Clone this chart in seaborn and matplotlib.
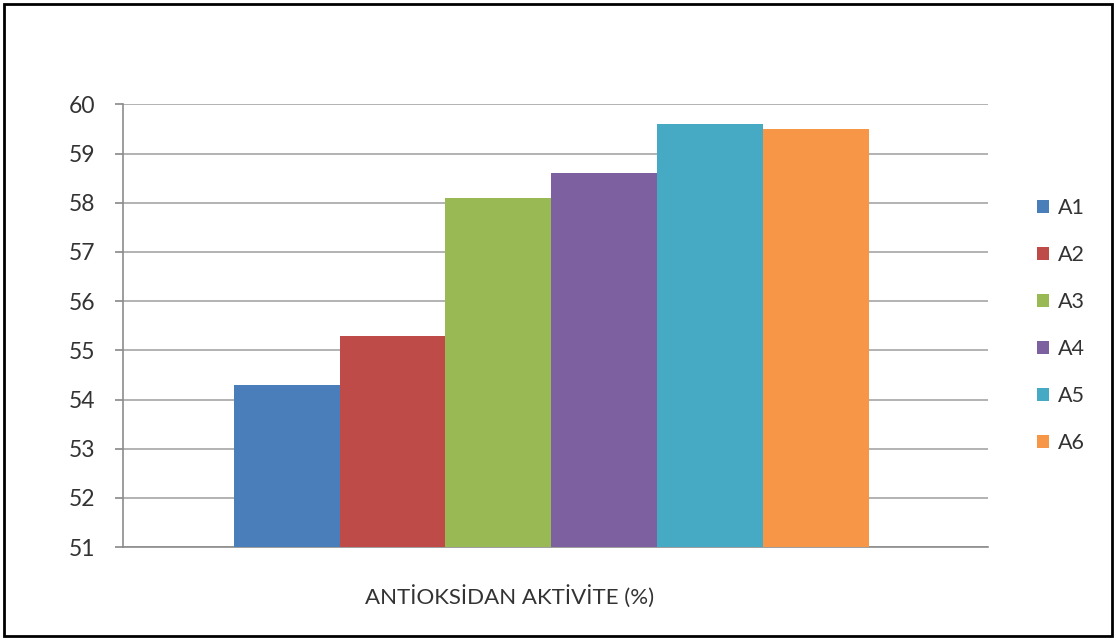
import seaborn as sns
import pandas as pd
import matplotlib.pyplot as plt
from matplotlib.patches import Rectangle

sns.set_theme(style="white")
plt.rcParams['font.family'] = ['Lato', 'DejaVu Sans']

# values
samples = ["A1", "A2", "A3", "A4", "A5", "A6"]
activity = [54.3, 55.3, 58.1, 58.6, 59.6, 59.5]
category = ["ANTİOKSİDAN AKTİVİTE (%)"] * len(samples)
colors = ["#4a7ebb", "#be4b48", "#98b954", "#7d60a0", "#46aac5", "#f79646"]
yticks = list(range(51, 61))


def plot_activity(data):
    fig = plt.figure(figsize=(11.16, 6.4), dpi=100)
    ax = fig.add_axes([0.11, 0.145, 0.775, 0.692])
    sns.barplot(data=data, x="category", y="activity", hue="sample",
                palette=colors, width=0.8, saturation=1, ax=ax,
                edgecolor="none", zorder=3)
    ax.set_ylim(51, 60)
    ax.set_xlim(-0.54, 0.55)
    ax.set_yticks(yticks)
    ax.yaxis.grid(True, color="#a6a6a6", linewidth=1.2, zorder=0)
    for side in ["top", "right"]:
        ax.spines[side].set_visible(False)
    ax.spines["left"].set_color("#8c8c8c")
    ax.spines["bottom"].set_color("#8c8c8c")
    ax.spines["left"].set_linewidth(1.2)
    ax.spines["bottom"].set_linewidth(1.2)
    ax.tick_params(axis="y", left=True, length=6, color="#8c8c8c",
                   labelsize=16.5, labelcolor="#333333", pad=14)
    # category name drawn as axis label so it sits under the floor centre like the original
    ax.set_xticklabels([""])
    ax.tick_params(axis="x", bottom=False)
    ax.set_xlabel(data["category"].iloc[0], fontsize=16, color="#333333")
    ax.xaxis.set_label_coords(0.447, -0.086)
    ax.set_ylabel("")
    ax.legend(loc="center left", bbox_to_anchor=(1.035, 0.5), frameon=False,
              fontsize=15.5, handlelength=0.55, handleheight=0.55,
              labelspacing=1.25, handletextpad=0.4,
              labelcolor="#333333")
    fig.patches.append(Rectangle((0.004, 0.006), 0.992, 0.988, transform=fig.transFigure,
                                 fill=False, edgecolor="black", linewidth=2))
    fig.savefig("out.png", dpi=100)


def main():
    data = pd.DataFrame({"category": category, "sample": samples, "activity": activity})
    plot_activity(data)


if __name__ == "__main__":
    main()
